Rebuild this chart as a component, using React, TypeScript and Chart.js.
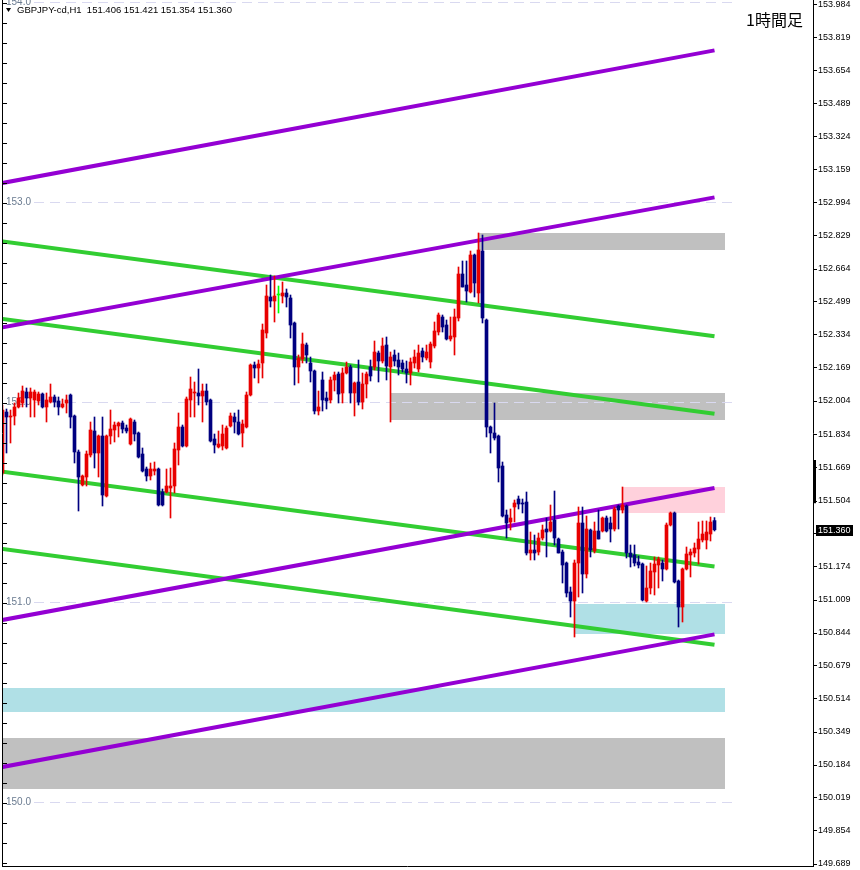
import React, { useEffect, useRef } from "react";
import { Chart, registerables } from "chart.js";

Chart.register(...registerables);

// ---------- text ----------
const symbolLabel = "GBPJPY-cd,H1";
const chartTitle = "1時間足";

// ---------- candles (H1 bars, oldest first) ----------
const opens = [
  151.644, 151.949, 151.924, 151.929, 151.974, 151.994, 152.049, 152.019, 152.009, 152.004,
  152.039, 151.974, 151.999, 152.024, 152.004, 151.974, 151.994, 152.034, 151.929, 151.749,
  151.584, 151.624, 151.734, 151.854, 151.744, 151.829, 151.529, 151.829, 151.859, 151.879,
  151.894, 151.869, 151.789, 151.899, 151.844, 151.739, 151.664, 151.629, 151.654, 151.664,
  151.549, 151.549, 151.569, 151.579, 151.759, 151.874, 151.779, 152.009, 152.044, 152.044,
  152.029, 152.054, 152.009, 151.814, 151.774, 151.779, 151.769, 151.879, 151.924, 151.899,
  151.844, 151.874, 152.034, 152.184, 152.169, 152.194, 152.344, 152.524, 152.504, 152.534,
  152.529, 152.544, 152.519, 152.394, 152.174, 152.214, 152.284, 152.194, 152.154, 151.954,
  152.109, 152.019, 152.009, 152.109, 152.139, 152.044, 152.144, 152.174, 152.044, 152.099,
  151.999, 152.089, 152.174, 152.174, 152.244, 152.204, 152.284, 152.174, 152.234, 152.209,
  152.194, 152.164, 152.144, 152.194, 152.164, 152.254, 152.219, 152.199, 152.279, 152.349,
  152.424, 152.384, 152.314, 152.324, 152.419, 152.639, 152.584, 152.549, 152.734, 152.544,
  152.754, 152.409, 151.874, 151.844, 151.829, 151.679, 151.434, 151.399, 151.474, 151.514,
  151.494, 151.499, 151.244, 151.259, 151.249, 151.319, 151.364, 151.354, 151.409, 151.314,
  151.249, 151.194, 151.049, 151.004, 151.194, 151.394, 151.139, 151.359, 151.254, 151.354,
  151.354, 151.419, 151.394, 151.364, 151.479, 151.459, 151.479, 151.244, 151.234, 151.199,
  151.189, 151.004, 151.069, 151.149, 151.184, 151.194, 151.164, 151.384, 151.444, 151.104,
  150.974, 151.164, 151.234, 151.244, 151.264, 151.309, 151.309, 151.339, 151.406,
];
const highs = [
  151.984, 151.964, 151.959, 151.994, 152.044, 152.079, 152.069, 152.069, 152.059, 152.049,
  152.044, 152.044, 152.089, 152.034, 152.024, 152.014, 152.034, 152.039, 151.934, 151.759,
  151.634, 151.754, 151.899, 151.924, 151.834, 151.924, 151.834, 151.959, 151.899, 151.899,
  151.904, 151.884, 151.919, 151.909, 151.849, 151.769, 151.674, 151.694, 151.699, 151.669,
  151.564, 151.664, 151.669, 151.794, 151.944, 151.884, 152.024, 152.124, 152.099, 152.164,
  152.089, 152.089, 152.014, 151.839, 151.854, 151.884, 151.879, 151.944, 151.944, 151.959,
  151.909, 152.049, 152.189, 152.199, 152.209, 152.389, 152.584, 152.634, 152.629, 152.579,
  152.599, 152.564, 152.534, 152.399, 152.234, 152.344, 152.294, 152.224, 152.159, 152.054,
  152.149, 152.049, 152.124, 152.149, 152.149, 152.169, 152.199, 152.184, 152.099, 152.209,
  152.144, 152.149, 152.209, 152.304, 152.254, 152.319, 152.324, 152.249, 152.259, 152.244,
  152.209, 152.204, 152.219, 152.259, 152.284, 152.269, 152.284, 152.299, 152.399, 152.444,
  152.434, 152.409, 152.424, 152.464, 152.674, 152.704, 152.704, 152.754, 152.739, 152.844,
  152.834, 152.414, 151.879, 151.994, 151.834, 151.699, 151.459, 151.464, 151.509, 151.529,
  151.514, 151.549, 151.349, 151.334, 151.344, 151.384, 151.419, 151.484, 151.554, 151.319,
  151.259, 151.199, 151.074, 151.209, 151.474, 151.474, 151.429, 151.364, 151.399, 151.459,
  151.424, 151.429, 151.424, 151.474, 151.484, 151.574, 151.484, 151.284, 151.284, 151.229,
  151.194, 151.179, 151.194, 151.224, 151.224, 151.209, 151.394, 151.449, 151.449, 151.109,
  151.169, 151.274, 151.264, 151.294, 151.399, 151.404, 151.404, 151.424, 151.421,
];
const lows = [
  151.634, 151.744, 151.794, 151.884, 151.969, 151.974, 151.974, 151.924, 151.924, 151.984,
  151.969, 151.899, 151.994, 151.974, 151.934, 151.969, 151.944, 151.869, 151.694, 151.454,
  151.579, 151.579, 151.724, 151.669, 151.624, 151.479, 151.524, 151.789, 151.799, 151.824,
  151.844, 151.844, 151.784, 151.804, 151.719, 151.649, 151.604, 151.609, 151.634, 151.479,
  151.479, 151.544, 151.419, 151.544, 151.684, 151.774, 151.774, 151.924, 151.924, 151.984,
  151.899, 151.984, 151.799, 151.744, 151.769, 151.759, 151.764, 151.874, 151.844, 151.834,
  151.774, 151.869, 152.029, 152.119, 152.094, 152.119, 152.319, 152.474, 152.399, 152.444,
  152.494, 152.474, 152.319, 152.084, 152.094, 152.194, 152.194, 152.099, 151.939, 151.934,
  151.954, 151.964, 151.994, 152.054, 151.994, 151.994, 152.139, 151.994, 151.929, 151.984,
  151.964, 152.019, 152.104, 152.159, 152.099, 152.194, 152.109, 151.899, 152.179, 152.134,
  152.149, 152.094, 152.084, 152.169, 152.149, 152.199, 152.209, 152.169, 152.269, 152.334,
  152.349, 152.309, 152.304, 152.234, 152.404, 152.574, 152.499, 152.544, 152.524, 152.494,
  152.394, 151.824, 151.744, 151.809, 151.599, 151.424, 151.319, 151.359, 151.399, 151.464,
  151.444, 151.234, 151.209, 151.209, 151.234, 151.309, 151.224, 151.349, 151.284, 151.244,
  151.094, 151.024, 150.924, 150.824, 151.024, 151.044, 151.119, 151.224, 151.244, 151.314,
  151.349, 151.349, 151.299, 151.354, 151.364, 151.444, 151.219, 151.174, 151.179, 151.169,
  151.004, 150.999, 151.039, 151.034, 151.069, 151.104, 151.159, 151.379, 151.094, 150.874,
  150.899, 151.159, 151.124, 151.224, 151.189, 151.299, 151.264, 151.304, 151.354,
];
const closes = [
  151.959, 151.924, 151.929, 151.974, 152.019, 152.054, 152.019, 152.049, 152.049, 152.039,
  151.974, 152.009, 152.024, 151.999, 151.974, 151.989, 152.009, 151.924, 151.749, 151.624,
  151.629, 151.739, 151.859, 151.744, 151.829, 151.534, 151.829, 151.864, 151.884, 151.894,
  151.864, 151.854, 151.914, 151.839, 151.724, 151.654, 151.629, 151.664, 151.664, 151.484,
  151.484, 151.579, 151.579, 151.764, 151.874, 151.779, 152.014, 152.064, 152.049, 152.029,
  152.054, 151.999, 151.804, 151.784, 151.789, 151.839, 151.869, 151.929, 151.899, 151.839,
  151.889, 152.034, 152.184, 152.169, 152.189, 152.359, 152.529, 152.504, 152.529, 152.534,
  152.544, 152.524, 152.384, 152.174, 152.219, 152.289, 152.234, 152.154, 151.954, 151.974,
  152.009, 152.004, 152.109, 152.134, 152.039, 152.144, 152.174, 152.044, 152.094, 151.999,
  152.089, 152.139, 152.129, 152.249, 152.204, 152.279, 152.179, 152.224, 152.204, 152.174,
  152.164, 152.144, 152.199, 152.224, 152.244, 152.224, 152.249, 152.289, 152.354, 152.434,
  152.374, 152.314, 152.329, 152.424, 152.639, 152.574, 152.554, 152.734, 152.594, 152.759,
  152.419, 151.874, 151.844, 151.819, 151.669, 151.429, 151.394, 151.419, 151.494, 151.489,
  151.489, 151.244, 151.259, 151.244, 151.319, 151.359, 151.349, 151.399, 151.319, 151.244,
  151.184, 151.044, 151.004, 151.194, 151.394, 151.139, 151.364, 151.259, 151.354, 151.314,
  151.419, 151.354, 151.364, 151.464, 151.459, 151.484, 151.244, 151.224, 151.194, 151.184,
  151.009, 151.069, 151.154, 151.189, 151.214, 151.164, 151.384, 151.444, 151.099, 150.974,
  151.164, 151.239, 151.249, 151.269, 151.314, 151.339, 151.349, 151.399, 151.360,
];

// ---------- price axis ----------
const yTickValues = [
  153.984, 153.819, 153.654, 153.489, 153.324, 153.159, 152.994, 152.829, 152.664,
  152.499, 152.334, 152.169, 152.004, 151.834, 151.669, 151.504, 151.339, 151.174,
  151.009, 150.844, 150.679, 150.514, 150.349, 150.184, 150.019, 149.854, 149.689,
];
const priceTop = 154.009;
const priceBottom = 149.679;
const axisMarker = [151.493, 151.709];

// ---------- horizontal round-number levels ----------
const levelPrices = [154.0, 153.0, 152.0, 151.0, 150.0];
const levelLabels = ["154.0", "153.0", "152.0", "151.0", "150.0"];
const levelLineEnd = 183;

// ---------- trend lines (anchor bars and prices) ----------
const trendStartBar = 0;
const trendEndBar = 178;
const purpleStart = [153.094, 152.372, 150.909, 150.174];
const purpleEnd = [153.757, 153.022, 151.569, 150.837];
const greenStart = [152.802, 152.414, 151.651, 151.264];
const greenEnd = [152.328, 151.94, 151.177, 150.785];

// ---------- zones (rectangles) ----------
const zoneStartBar = [119, 97, 155, 143, -2, -2];
const zoneEndBar = [180.6, 180.6, 180.6, 180.6, 180.6, 180.6];
const zoneTop = [152.844, 152.044, 151.574, 150.989, 150.569, 150.319];
const zoneBottom = [152.759, 151.909, 151.444, 150.837, 150.449, 150.064];
const zoneColor = ["#C0C0C0", "#C0C0C0", "#FFD1DC", "#B0E0E6", "#B0E0E6", "#C0C0C0"];

// ---------- styles ----------
const BULL = "#E80000";
const BEAR = "#000080";
const DOJI = "#00FF00";
const PURPLE = "#9400D3";
const GREEN = "#32CD32";

const backgroundPlugin = {
  id: "backgroundObjects",
  beforeDatasetsDraw(chart: any) {
    const { ctx, chartArea, scales } = chart;
    const x = scales.x;
    const y = scales.y;
    ctx.save();
    ctx.beginPath();
    ctx.rect(chartArea.left, chartArea.top, chartArea.right - chartArea.left, chartArea.bottom - chartArea.top);
    ctx.clip();
    zoneTop.forEach((top, i) => {
      const x0 = Math.round(x.getPixelForValue(zoneStartBar[i]));
      const x1 = Math.round(x.getPixelForValue(zoneEndBar[i]));
      const y0 = Math.round(y.getPixelForValue(top));
      const y1 = Math.round(y.getPixelForValue(zoneBottom[i]));
      ctx.fillStyle = zoneColor[i];
      ctx.fillRect(x0, y0, x1 - x0, y1 - y0);
    });
    ctx.font = '10px "Liberation Sans"';
    ctx.textBaseline = "middle";
    ctx.textAlign = "left";
    levelPrices.forEach((p, i) => {
      const py = Math.round(y.getPixelForValue(p)) + 0.5;
      ctx.fillStyle = "#6A7B90";
      ctx.fillText(levelLabels[i], 6, py);
      const w = ctx.measureText(levelLabels[i]).width;
      ctx.strokeStyle = "#D9D9F0";
      ctx.lineWidth = 1;
      ctx.setLineDash([10, 6]);
      ctx.beginPath();
      ctx.moveTo(6 + w + 3, py);
      ctx.lineTo(x.getPixelForValue(levelLineEnd), py);
      ctx.stroke();
    });
    ctx.restore();
  },
};

const foregroundPlugin = {
  id: "foregroundObjects",
  afterDraw(chart: any) {
    const { ctx, chartArea, scales } = chart;
    const y = scales.y;
    ctx.save();
    ctx.strokeStyle = "#000";
    ctx.lineWidth = 1;
    ctx.beginPath();
    ctx.moveTo(2.5, 0);
    ctx.lineTo(2.5, chartArea.bottom + 1);
    for (let ty = 3.5; ty < chartArea.bottom; ty += 20) {
      ctx.moveTo(2, ty);
      ctx.lineTo(7, ty);
    }
    ctx.moveTo(2, chartArea.bottom + 0.5);
    ctx.lineTo(chartArea.right, chartArea.bottom + 0.5);
    ctx.stroke();

    // marker on the price axis
    const m0 = y.getPixelForValue(axisMarker[1]);
    const m1 = y.getPixelForValue(axisMarker[0]);
    ctx.fillStyle = "#000";
    ctx.fillRect(chartArea.right, m0, 3, m1 - m0);

    // current price box
    const last = closes[closes.length - 1];
    const py = Math.round(y.getPixelForValue(last));
    ctx.fillStyle = "#000";
    ctx.fillRect(chartArea.right + 3, py - 5, 37, 11);
    ctx.fillStyle = "#fff";
    ctx.font = '9px "Liberation Sans"';
    ctx.textBaseline = "middle";
    ctx.textAlign = "left";
    ctx.fillText(last.toFixed(3), chartArea.right + 5, py + 0.5);

    // header
    ctx.fillStyle = "#000";
    ctx.beginPath();
    ctx.moveTo(6, 8);
    ctx.lineTo(11, 8);
    ctx.lineTo(8.5, 12);
    ctx.closePath();
    ctx.fill();
    const n = opens.length - 1;
    const header = `${symbolLabel}  ${opens[n].toFixed(3)} ${highs[n].toFixed(3)} ${lows[n].toFixed(3)} ${closes[n].toFixed(3)}`;
    ctx.font = '9.5px "Liberation Sans"';
    ctx.fillText(header, 17, 10);

    // title
    ctx.font = '16px "Noto Sans CJK JP"';
    ctx.textAlign = "right";
    ctx.fillText(chartTitle, 803, 20);
    ctx.restore();
  },
};

export default function App() {
  const canvasRef = useRef<HTMLCanvasElement | null>(null);

  useEffect(() => {
    if (!canvasRef.current) return;
    const idx = opens.map((_, i) => i);
    const colors = idx.map((i) =>
      closes[i] > opens[i] ? BULL : closes[i] < opens[i] ? BEAR : DOJI
    );
    const trendDataset = (start: number, end: number, color: string) => ({
      type: "line" as const,
      data: [
        { x: trendStartBar, y: start },
        { x: trendEndBar, y: end },
      ],
      borderColor: color,
      borderWidth: 4,
      pointRadius: 0,
      fill: false,
      tension: 0,
      order: 10,
    });

    const chart = new Chart(canvasRef.current, {
      type: "bar",
      data: {
        datasets: [
          ...purpleStart.map((s, i) => trendDataset(s, purpleEnd[i], PURPLE)),
          ...greenStart.map((s, i) => trendDataset(s, greenEnd[i], GREEN)),
          {
            type: "bar",
            data: idx.map((i) => ({ x: i, y: [lows[i], highs[i]] })),
            backgroundColor: colors,
            barThickness: 1,
            grouped: false,
            borderWidth: 0,
            order: 2,
          } as any,
          {
            type: "bar",
            data: idx.map((i) => ({ x: i, y: [opens[i], closes[i]] })),
            backgroundColor: colors,
            barThickness: 3,
            minBarLength: 1,
            grouped: false,
            borderWidth: 0,
            order: 1,
          } as any,
        ],
      },
      options: {
        animation: false,
        responsive: false,
        devicePixelRatio: 1,
        events: [],
        layout: { padding: { left: 3, top: 0, right: 0, bottom: 4 } },
        plugins: { legend: { display: false }, tooltip: { enabled: false } },
        scales: {
          x: {
            type: "linear",
            min: 0.125,
            max: 202.625,
            offset: false,
            display: false,
          },
          y: {
            type: "linear",
            position: "right",
            min: priceBottom,
            max: priceTop,
            afterBuildTicks: (scale: any) => {
              scale.ticks = yTickValues.map((v) => ({ value: v }));
            },
            afterFit: (scale: any) => {
              scale.width = 47;
              scale.paddingTop = 0;
              scale.paddingBottom = 0;
            },
            ticks: {
              autoSkip: false,
              padding: 1,
              color: "#000",
              font: { family: "Liberation Sans", size: 9 },
              callback: (v: any) => Number(v).toFixed(3),
            },
            grid: {
              drawOnChartArea: false,
              drawTicks: true,
              tickLength: 4,
              color: "#000",
              tickColor: "#000",
            },
            border: { display: true, color: "#000", width: 1 },
          },
        },
      } as any,
      plugins: [backgroundPlugin, foregroundPlugin],
    });
    return () => chart.destroy();
  }, []);

  return (
    <div style={{ position: "absolute", left: 0, top: 0, width: 860, height: 870, background: "#fff" }}>
      <canvas ref={canvasRef} width={860} height={870} style={{ display: "block", width: 860, height: 870 }} />
    </div>
  );
}
